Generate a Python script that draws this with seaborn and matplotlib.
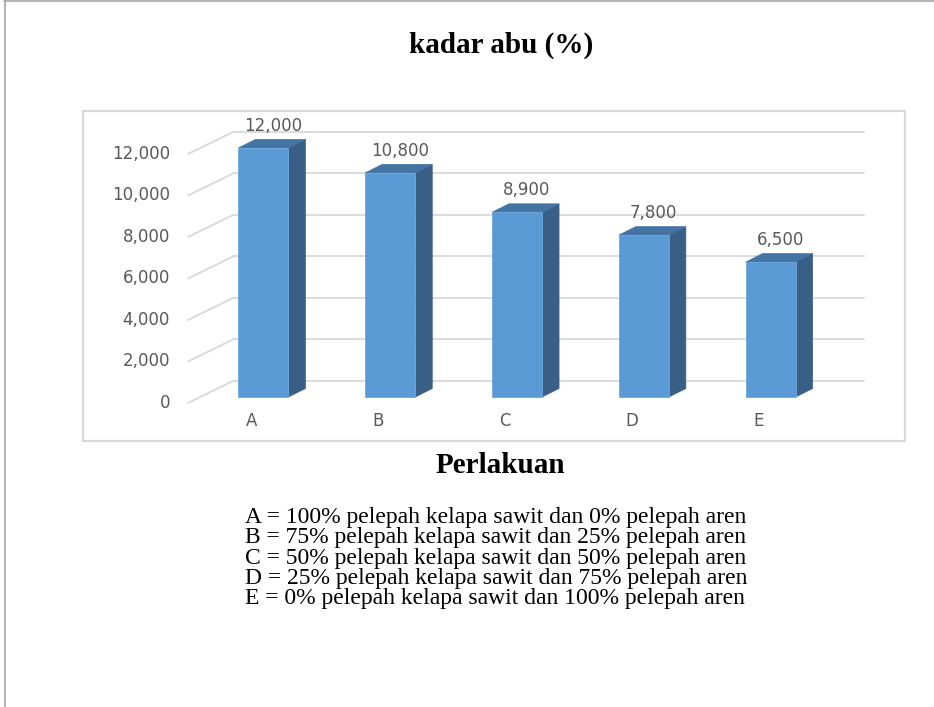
import matplotlib
matplotlib.use("Agg")
import matplotlib.pyplot as plt
import numpy as np
import pandas as pd
import seaborn as sns
from matplotlib.patches import Polygon, Rectangle
from matplotlib.lines import Line2D
from matplotlib.transforms import ScaledTranslation

# ---- data -------------------------------------------------------------
perlakuan = ["A", "B", "C", "D", "E"]
kadar_abu = [12000, 10800, 8900, 7800, 6500]
y_ticks = [0, 2000, 4000, 6000, 8000, 10000, 12000]
keterangan = [
    "A = 100% pelepah kelapa sawit dan 0% pelepah aren",
    "B = 75% pelepah kelapa sawit dan 25% pelepah aren",
    "C = 50% pelepah kelapa sawit dan 50% pelepah aren",
    "D = 25% pelepah kelapa sawit dan 75% pelepah aren",
    "E = 0% pelepah kelapa sawit dan 100% pelepah aren",
]
judul = "kadar abu (%)"
label_x = "Perlakuan"

# ---- style ------------------------------------------------------------
sns.set_theme(style="white")
plt.rcParams["font.family"] = ["DejaVu Sans"]

FRONT = "#5B9BD5"
SIDE = "#395F87"
TOP = "#4374A4"
GRID = "#D9D9D9"
TXT = "#595959"
SERIF = ["Liberation Serif", "DejaVu Serif"]

W, H, DPI = 934, 707, 100
fig = plt.figure(figsize=(W / DPI, H / DPI), dpi=DPI)
fig.patch.set_facecolor("white")


def fx(px):
    return px / W


def fy(py):
    return 1 - py / H


# page edges
fig.add_artist(Line2D([fx(4), 1], [fy(0.5), fy(0.5)], color="#A6A6A6", lw=1.2))
fig.add_artist(Line2D([fx(4.5), fx(4.5)], [0, 1], color="#A6A6A6", lw=1.2))

# chart area frame
fig.add_artist(Rectangle((fx(83), fy(441)), (905 - 83) / W, (441 - 111) / H,
                         fill=False, edgecolor=GRID, lw=1.6))

# axes on the plane of the bar front faces
ax = fig.add_axes([fx(200), fy(397), (834 - 200) / W, (397 - 148) / H])
df = pd.DataFrame({"Perlakuan": perlakuan, "Kadar abu": kadar_abu})
sns.barplot(data=df, x="Perlakuan", y="Kadar abu", width=0.395, color=FRONT,
            saturation=1, edgecolor="#6DA8DD", linewidth=0.6, ax=ax, zorder=5)
ax.set_xlim(-0.5, 4.5)
ax.set_ylim(0, 12000)
ax.axis("off")

# pixel -> data unit conversion for the depth offsets
bb = ax.get_window_extent()
ppx = bb.width / 5.0
ppy = bb.height / 12000.0


def off(dx_px, dy_px):
    return dx_px / ppx, dy_px / ppy


bar_d = off(17, 8.5)     # depth of each bar
back_d = off(33, 16)     # back wall
front_d = off(-12, -6)   # front edge of the floor

x_left, x_right = -0.5, 4.476

# back wall gridlines and left wall diagonals
for t in y_ticks:
    ax.add_line(Line2D([x_left + back_d[0], x_right + back_d[0]],
                       [t + back_d[1], t + back_d[1]],
                       color=GRID, lw=1.3, zorder=1, clip_on=False))
    ax.add_line(Line2D([x_left + front_d[0], x_left + back_d[0]],
                       [t + front_d[1], t + back_d[1]],
                       color=GRID, lw=1.3, zorder=1, clip_on=False))

# 3D side and top faces for every bar
for p in ax.patches[:]:
    x0 = p.get_x()
    x1 = x0 + p.get_width()
    h = p.get_height()
    dx, dy = bar_d
    ax.add_patch(Polygon([(x1, 0), (x1 + dx, dy), (x1 + dx, h + dy), (x1, h)],
                         closed=True, facecolor=SIDE, edgecolor=SIDE, lw=0.5,
                         zorder=4, clip_on=False))
    ax.add_patch(Polygon([(x0, h), (x1, h), (x1 + dx, h + dy), (x0 + dx, h + dy)],
                         closed=True, facecolor=TOP, edgecolor=TOP, lw=0.5,
                         zorder=4, clip_on=False))
    p.set_clip_on(False)


def shifted(dx_px, dy_px):
    return ax.transData + ScaledTranslation(dx_px / DPI, dy_px / DPI, fig.dpi_scale_trans)


# value axis labels on the front edge
for t in y_ticks:
    ax.text(x_left, t, f"{t:,}", transform=shifted(-30, -6), ha="right",
            va="center", fontsize=12, color=TXT, clip_on=False)

# category labels
for i, c in enumerate(perlakuan):
    ax.text(i, 0, c, transform=shifted(-12, -24), ha="center", va="center",
            fontsize=12, color=TXT, clip_on=False)

# value labels above the bars
for i, v in enumerate(kadar_abu):
    ax.text(i, v, f"{v:,}", transform=shifted(10, 22), ha="center", va="center",
            fontsize=12, color=TXT, clip_on=False)

# title and x label
fig.text(fx(501), fy(53), judul, ha="center", va="baseline", fontsize=21,
         fontweight="bold", family=SERIF, color="black")
fig.text(fx(500), fy(473), label_x, ha="center", va="baseline", fontsize=21,
         fontweight="bold", family=SERIF, color="black")

# treatment legend, left aligned block centred under the chart
lines = []
for k, s in enumerate(keterangan):
    lines.append(fig.text(0, fy(523 + 20.3 * k), s, ha="left", va="baseline",
                          fontsize=17, family=SERIF, color="black"))
fig.canvas.draw()
r = fig.canvas.get_renderer()
wmax = max(t.get_window_extent(r).width for t in lines)
for t in lines:
    t.set_x(fx(496 - wmax / 2))

fig.savefig("out.png", dpi=DPI, facecolor="white")
